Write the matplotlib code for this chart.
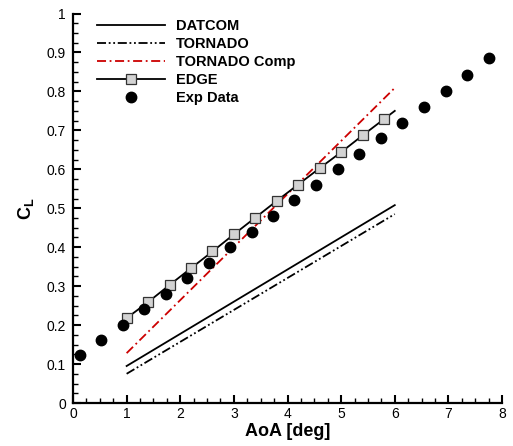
import matplotlib
matplotlib.use("Agg")
import matplotlib.pyplot as plt
from matplotlib.ticker import MultipleLocator

plt.rcParams["font.family"] = "Liberation Sans"
plt.rcParams["mathtext.fontset"] = "custom"
plt.rcParams["mathtext.rm"] = "Liberation Sans"
plt.rcParams["mathtext.bf"] = "Liberation Sans:bold"

# ---- dados ----
datcom_aoa = [1.0, 6.0]
datcom_cl = [0.095, 0.508]

tornado_aoa = [1.0, 6.0]
tornado_cl = [0.075, 0.485]

tcomp_aoa = [1.0, 6.0]
tcomp_cl = [0.128, 0.809]

edge_aoa = [1.0, 1.4, 1.8, 2.2, 2.6, 3.0, 3.4, 3.8, 4.2, 4.6, 5.0, 5.4, 5.8, 6.0]
edge_cl = [0.218, 0.259, 0.303, 0.346, 0.389, 0.433, 0.476, 0.519, 0.561,
           0.603, 0.644, 0.687, 0.729, 0.750]

exp_aoa = [0.13, 0.53, 0.93, 1.33, 1.73, 2.13, 2.53, 2.93, 3.33, 3.73,
           4.13, 4.53, 4.94, 5.34, 5.75, 6.14, 6.55, 6.95, 7.35, 7.76]
exp_cl = [0.122, 0.161, 0.201, 0.241, 0.281, 0.320, 0.360, 0.400, 0.440,
          0.480, 0.520, 0.560, 0.600, 0.640, 0.680, 0.720, 0.761, 0.801,
          0.843, 0.885]

# ---- figura ----
fig = plt.figure(figsize=(5.13, 4.46), dpi=100)
ax = fig.add_axes([0.1423, 0.0964, 0.8363, 0.8733])

ax.plot(datcom_aoa, datcom_cl, color="black", lw=1.3, label="DATCOM")
ax.plot(tornado_aoa, tornado_cl, color="black", lw=1.3,
        linestyle=(0, (5, 1.5, 1, 1.5, 1, 1.5)), label="TORNADO")
ax.plot(tcomp_aoa, tcomp_cl, color="#CC0000", lw=1.3,
        linestyle=(0, (5, 2, 1, 2)), label="TORNADO Comp")
ax.plot(edge_aoa, edge_cl, color="black", lw=1.3, marker="s", ms=7.5,
        mfc="#D3D3D3", mec="#333333", mew=0.9,
        markevery=list(range(len(edge_aoa) - 1)), label="EDGE")
ax.plot(exp_aoa, exp_cl, linestyle="none", marker="o", ms=7.5,
        color="black", label="Exp Data")

ax.set_xlim(0, 8)
ax.set_ylim(0, 1)
ax.xaxis.set_major_locator(MultipleLocator(1))
ax.xaxis.set_minor_locator(MultipleLocator(0.25))
ax.yaxis.set_minor_locator(MultipleLocator(0.025))
ax.set_yticks([0, 0.1, 0.2, 0.3, 0.4, 0.5, 0.6, 0.7, 0.8, 0.9, 1.0])
ax.set_yticklabels(["0", "0.1", "0.2", "0.3", "0.4", "0.5", "0.6", "0.7",
                    "0.8", "0.9", "1"])

for s in ("top", "right"):
    ax.spines[s].set_visible(False)
for s in ("left", "bottom"):
    ax.spines[s].set_linewidth(1.6)

ax.tick_params(which="major", direction="in", length=6, width=1.5,
               labelsize=10)
ax.tick_params(which="minor", direction="in", length=3.5, width=1.0)
ax.tick_params(axis="x", which="major", pad=3)
ax.tick_params(axis="y", which="major", pad=5)

ax.set_xlabel("AoA [deg]", fontsize=13, fontweight="bold", labelpad=1)
ax.set_ylabel(r"$\mathbf{C}_\mathbf{L}$", fontsize=13, labelpad=8)

leg = ax.legend(loc="upper left", bbox_to_anchor=(0.048, 0.993), frameon=False,
                prop={"weight": "bold", "size": 10.5}, handlelength=4.7,
                handletextpad=0.75, labelspacing=0.28, borderaxespad=0,
                borderpad=0.2)

fig.savefig("out.png", dpi=100)
